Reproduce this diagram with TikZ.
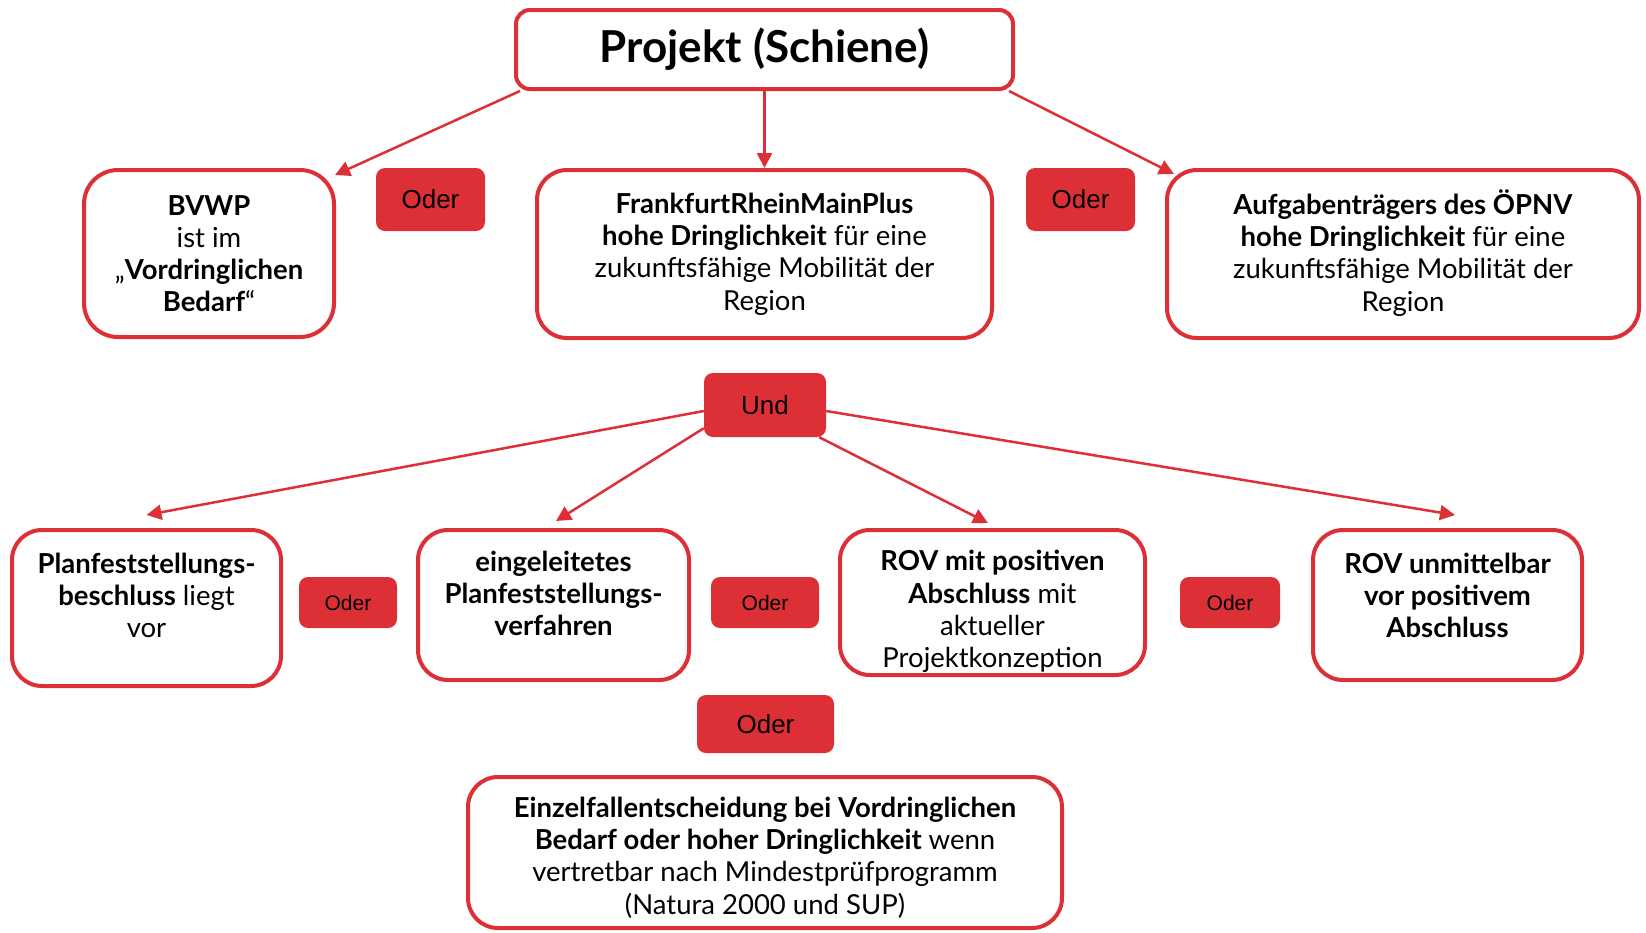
\documentclass[tikz,border=0pt]{standalone}
\usepackage{fontspec}
\setmainfont{Lato}
\newfontfamily\arialfont{Liberation Sans}
\usetikzlibrary{arrows.meta,calc}
\definecolor{dbred}{RGB}{221,48,54}
\tikzset{
  box/.style={draw=dbred, line width=4pt, rounded corners=30pt, fill=white, inner sep=0pt},
  titlebox/.style={box, rounded corners=14pt},
  txt/.style={align=center, inner sep=0pt, text=black, font=\fontsize{27.5}{32.2}\selectfont},
  tag/.style={fill=dbred, rounded corners=9pt, inner sep=0pt, text=black, font=\arialfont\fontsize{26}{30}\selectfont},
  smalltag/.style={tag, font=\arialfont\fontsize{21}{24}\selectfont},
  conn/.style={draw=dbred, line width=2.5pt, -{Triangle[length=15pt,width=15pt]}},
}
\begin{document}
\begin{tikzpicture}[x=1pt,y=-1pt]
\useasboundingbox (0,0) rectangle (1646,932);
\fill[white] (0,0) rectangle (1646,932);

% top
\node[titlebox, minimum width=497pt, minimum height=79pt, font=\fontsize{44}{50}\selectfont\bfseries] (proj) at (764.5,49.5) {Projekt (Schiene)};

% row 1
\node[box, rounded corners=34pt, minimum width=250pt, minimum height=167pt] (bvwp) at (209,253.5) {};
\node[txt] (tbvwp) at (bvwp.center) {\textbf{BVWP}\\ist im\\„\textbf{Vordringlichen}\\\textbf{Bedarf}“};
\node[box, minimum width=455pt, minimum height=168pt] (ffm) at (764.5,254) {};
\node[txt] (tffm) at (ffm.center) {\textbf{FrankfurtRheinMainPlus}\\\textbf{hohe Dringlichkeit} für eine\\zukunftsfähige Mobilität der\\Region};
\node[box, minimum width=472pt, minimum height=168pt] (auf) at (1403,254) {};
\node[txt] (tauf) at ($(auf.center)+(0,-1)$) {\textbf{Aufgabenträgers des ÖPNV}\\\textbf{hohe Dringlichkeit} für eine\\zukunftsfähige Mobilität der\\Region};
\node[tag, minimum width=109pt, minimum height=63pt] (oder1) at (430.5,199.5) {Oder};
\node[tag, minimum width=109pt, minimum height=63pt] (oder2) at (1080.5,199.5) {Oder};

% und
\node[tag, minimum width=122pt, minimum height=64pt] (und) at (765,405) {Und};

% row 2
\node[box, minimum width=269pt, minimum height=156pt] (planf) at (146.5,608) {};
\node[txt] (tplanf) at ($(planf.center)+(0,-12.5)$) {\textbf{Planfeststellungs-}\\\textbf{beschluss} liegt\\vor};
\node[box, minimum width=271pt, minimum height=150pt] (ein) at (553.5,605) {};
\node[txt] (tein) at ($(ein.center)+(0,-11.5)$) {\textbf{eingeleitetes}\\\textbf{Planfeststellungs-}\\\textbf{verfahren}};
\node[box, minimum width=305pt, minimum height=145pt] (rovp) at (992.5,602.5) {};
\node[txt] (trovp) at ($(rovp.center)+(0,9)$) {\textbf{ROV mit positiven}\\\textbf{Abschluss} mit\\aktueller\\Projektkonzeption};
\node[box, minimum width=269pt, minimum height=150pt] (rovu) at (1447.5,605) {};
\node[txt] (trovu) at ($(rovu.center)+(0,-9.5)$) {\textbf{ROV unmittelbar}\\\textbf{vor positivem}\\\textbf{Abschluss}};
\node[smalltag, minimum width=98pt, minimum height=51pt] (oder3) at (348,602.5) {Oder};
\node[smalltag, minimum width=108pt, minimum height=51pt] (oder4) at (765,602.5) {Oder};
\node[smalltag, minimum width=100pt, minimum height=51pt] (oder5) at (1230,602.5) {Oder};

% bottom
\node[tag, minimum width=137pt, minimum height=58pt] (oder6) at (765.5,724) {Oder};
\node[box, minimum width=594pt, minimum height=151pt] (einz) at (765,852.5) {};
\node[txt] (teinz) at ($(einz.center)+(0,5)$) {\textbf{Einzelfallentscheidung bei Vordringlichen}\\\textbf{Bedarf oder hoher Dringlichkeit} wenn\\vertretbar nach Mindestprüfprogramm\\(Natura 2000 und SUP)};

% connectors
\draw[conn] ($(proj.south west)+(6,0)$) -- ($(bvwp.north east)+(-1,7)$);
\draw[conn] (proj.south) -- (ffm.north);
\draw[conn] ($(proj.south east)+(-6,0)$) -- ($(auf.north west)+(9,6)$);
\draw[conn] ($(und.west)+(0,6)$) -- ($(planf.north)+(0,-13)$);
\draw[conn] ($(und.south west)+(0,-9)$) -- ($(ein.north)+(2.5,-7)$);
\draw[conn] ($(und.south east)+(-7,0)$) -- ($(rovp.north)+(-4.5,-5)$);
\draw[conn] ($(und.east)+(0,6)$) -- ($(rovu.north)+(7.5,-13)$);
\end{tikzpicture}
\end{document}
